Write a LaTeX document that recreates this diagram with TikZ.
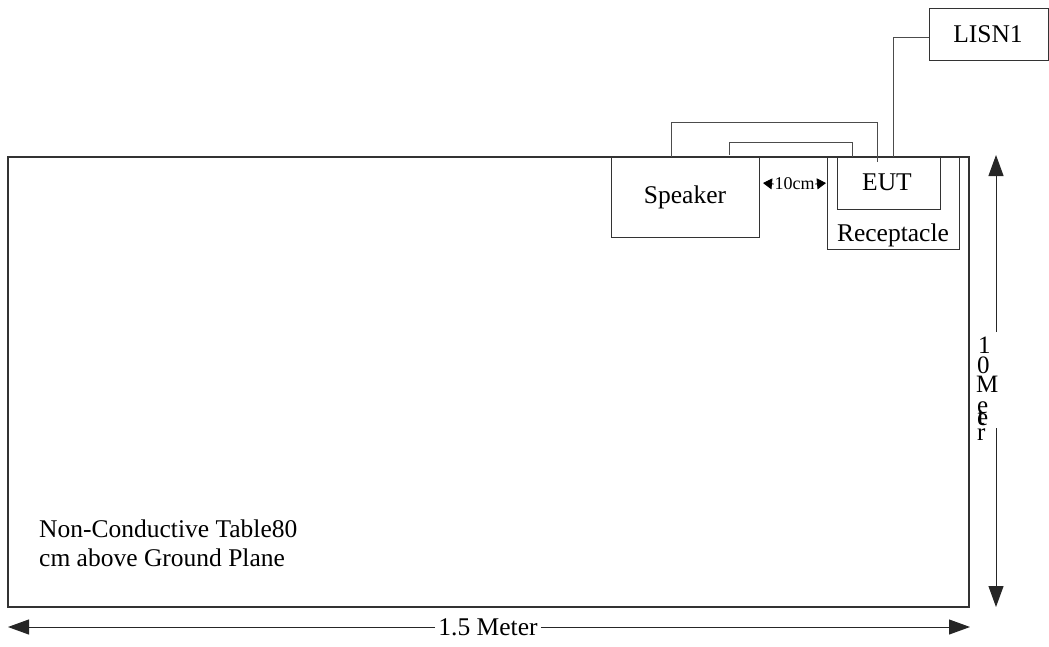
\documentclass[tikz,border=0pt]{standalone}
\usepackage{fontspec}
\setmainfont{Liberation Serif}
\usetikzlibrary{arrows.meta,calc}
\begin{document}
\begin{tikzpicture}[x=1pt,y=-1pt,
  boxline/.style={draw=black!80,line width=1pt},
  cable/.style={draw=black!70,line width=1pt},
  lbl/.style={font=\fontsize{25.5}{30}\selectfont,inner sep=0pt},
  small/.style={font=\fontsize{18}{20}\selectfont,inner sep=0pt},
  bigarrow/.style={draw=black!85,line width=1pt,-{Triangle[length=21pt,width=15pt]}},
  smallarrow/.style={draw=black,line width=0.8pt,-{Triangle[length=9pt,width=11pt]}},
  vchar/.style={font=\fontsize{25}{25}\selectfont,inner sep=0pt,anchor=base west}
]
\useasboundingbox (0,0) rectangle (1049,646);
% table
\draw[boxline,line width=1.2pt] (8,157) rectangle (969,607);
% boxes
\node[boxline,minimum width=148pt,minimum height=80pt,anchor=north west] (spk) at (611,157) {};
\node[lbl] (spktxt) at (685,197) {Speaker};
\node[boxline,minimum width=132pt,minimum height=92pt,anchor=north west] (rec) at (827,157) {};
\node[lbl,anchor=base] (rectxt) at (893,241) {Receptacle};
\node[boxline,minimum width=103pt,minimum height=52pt,anchor=north west] (eut) at (837,157) {};
\node[lbl,anchor=base] (euttxt) at (887,190) {EUT};
\node[boxline,minimum width=119pt,minimum height=52pt,anchor=north west] (lisn) at (929,8) {};
\node[lbl] (lisntxt) at (988,34) {LISN1};
% cables
\coordinate (c1a) at (671,157);
\coordinate (c1b) at (671,122);
\coordinate (c1c) at (877,122);
\coordinate (c1d) at (877,162);
\draw[cable] (c1a) -- (c1b) -- (c1c) -- (c1d);
\coordinate (c2a) at (729,155);
\coordinate (c2b) at (729,142);
\coordinate (c2c) at (852,142);
\coordinate (c2d) at (852,157);
\draw[cable] (c2a) -- (c2b) -- (c2c) -- (c2d);
\coordinate (c3a) at (893,157);
\coordinate (c3b) at (893,37);
\draw[cable] (c3a) -- (c3b) -- (c3b -| lisn.west);
% 10cm
\node[small,fill=white,inner xsep=0.5pt] (d10) at (794.5,184) {10cm};
\draw[smallarrow] (d10.west) -- (763,183);
\draw[smallarrow] (d10.east) -- (826,183);
% 1.5 meter
\node[lbl,fill=white,inner xsep=3pt] (m15) at (488,627) {1.5 Meter};
\coordinate (hl) at (8,627);
\coordinate (hr) at (970,627);
\draw[bigarrow] (m15.west) -- (hl);
\draw[bigarrow] (m15.east) -- (hr);
% vertical arrow
\coordinate (vt) at (996,155);
\coordinate (vg1) at (996,332);
\coordinate (vg2) at (996,428);
\coordinate (vb) at (996,607);
\draw[bigarrow] (vg1) -- (vt);
\draw[bigarrow] (vg2) -- (vb);
\node[vchar] (v1) at (978,353) {1};
\node[vchar] (v2) at (977,373) {0};
\node[vchar] (v3) at (976,392) {M};
\node[vchar] (v4) at (977,413) {e};
\node[vchar] (v5) at (977.5,424) {t};
\node[vchar] (v6) at (977,425) {e};
\node[vchar] (v7) at (977,440) {r};
% table text
\node[lbl,anchor=base west] (t1) at (39,537) {Non-Conductive Table80};
\node[lbl,anchor=base west] (t2) at (39,566) {cm above Ground Plane};
\end{tikzpicture}
\end{document}
